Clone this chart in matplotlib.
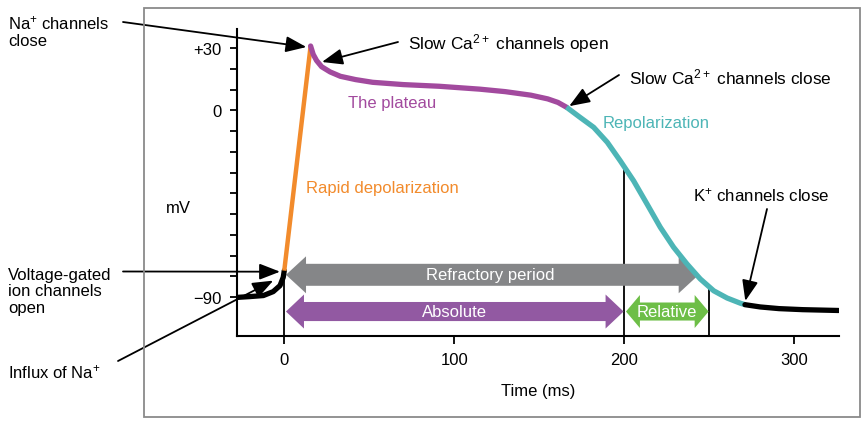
import numpy as np
import matplotlib.pyplot as plt
from matplotlib.patches import Polygon, Rectangle

plt.rcParams['font.family'] = ['Liberation Sans', 'DejaVu Sans']
plt.rcParams['mathtext.fontset'] = 'custom'
plt.rcParams['mathtext.rm'] = 'Liberation Sans'
plt.rcParams['mathtext.it'] = 'Liberation Sans:italic'
plt.rcParams['mathtext.bf'] = 'Liberation Sans:bold'

# action potential (time in ms, voltage in mV)
rest_t = [-28, -20.2, -12.3, -6.5, -2.5, -0.6, 0]
rest_v = [-90.2, -89.8, -89.3, -87.4, -84.5, -80.5, -77.3]
depol_t = [0, 15.5]
depol_v = [-77.3, 31]
plateau_t = [15.5, 17, 19, 22, 27, 33, 42, 52, 70, 91, 115, 130, 145, 155, 161, 166]
plateau_v = [31, 27, 24, 21, 18.5, 16.4, 14.8, 13.5, 12.4, 11.6, 10.2, 9, 7.3, 5.5, 3.8, 1.5]
repol_t = [166, 174, 182, 190, 197.6, 205.5, 213.4, 221.2, 229, 236.9, 244.7, 252.6, 260.5, 268.3, 271]
repol_v = [1.5, -3.4, -8.2, -15.4, -24.3, -34, -45.2, -56.4, -66, -74.1, -81.3, -87, -90.5, -93, -93.7]
after_t = [271, 280, 291, 305, 326]
after_v = [-93.7, -94.8, -95.6, -96.1, -96.5]

# refractory periods (ms)
refractory = (1, 243.8)
absolute = (1, 199.6)
relative = (201, 249.6)
markers_t = [0, 200, 250]

c_orange = '#F28B2C'
c_purple = '#A24A9E'
c_teal = '#4DB5B6'
c_gray = '#858688'
c_abs = '#9259A2'
c_green = '#6DBE47'

fig = plt.figure(figsize=(8.66, 4.31), dpi=100)
fig.patches.append(Rectangle((144, 13), 716, 409, transform=None, fill=False,
                             ec='#8a8a8a', lw=1.3))
ax = fig.add_axes([237 / 866, 94 / 431, 602 / 866, 307 / 431])
ax.set_xlim(-27.8, 326.3)
ax.set_ylim(-108.8, 39.2)

# vertical markers up to the curve
all_t = np.concatenate([rest_t, depol_t, plateau_t, repol_t, after_t])
all_v = np.concatenate([rest_v, depol_v, plateau_v, repol_v, after_v])
order = np.argsort(all_t, kind='stable')
for t in markers_t:
    ax.vlines(t, -108.8, np.interp(t, all_t[order], all_v[order]), color='black', lw=1.3, zorder=1)

lw = 3.8
style = dict(solid_joinstyle='round', zorder=3)
ax.plot(rest_t, rest_v, color='black', lw=lw, solid_capstyle='round', **style)
ax.plot(depol_t, depol_v, color=c_orange, lw=3.2, solid_capstyle='butt', **style)
ax.plot(plateau_t, plateau_v, color=c_purple, lw=lw, solid_capstyle='round', **style)
ax.plot(repol_t, repol_v, color=c_teal, lw=lw, solid_capstyle='butt', **style)
ax.plot(after_t, after_v, color='black', lw=lw, solid_capstyle='round', **style)


def block_arrow(x0, x1, y, body, head, hlen, color):
    xs = [x0, x0 + hlen, x0 + hlen, x1 - hlen, x1 - hlen, x1,
          x1 - hlen, x1 - hlen, x0 + hlen, x0 + hlen]
    ys = [y, y + head / 2, y + body / 2, y + body / 2, y + head / 2, y,
          y - head / 2, y - body / 2, y - body / 2, y - head / 2]
    ax.add_patch(Polygon(list(zip(xs, ys)), closed=True, fc=color, ec='none', zorder=2))


block_arrow(refractory[0], refractory[1], -79.3, 10.6, 17.8, 11.8, c_gray)
block_arrow(absolute[0], absolute[1], -97.0, 9.2, 16.4, 10.6, c_abs)
block_arrow(relative[0], relative[1], -97.0, 8.7, 15.9, 8.2, c_green)
ax.text(121, -79.3, 'Refractory period', color='white', fontsize=12, ha='center', va='center', zorder=4)
ax.text(100, -97.0, 'Absolute', color='white', fontsize=12, ha='center', va='center', zorder=4)
ax.text(225, -97.0, 'Relative', color='white', fontsize=12, ha='center', va='center', zorder=4)

# axes styling
for s in ['top', 'right']:
    ax.spines[s].set_visible(False)
ax.spines['left'].set_linewidth(1.5)
ax.spines['bottom'].set_linewidth(1.5)
ax.set_yticks(np.arange(-90, 31, 10))
ax.set_yticklabels(['\u221290' if v == -90 else '+30' if v == 30 else '0' if v == 0 else ''
                    for v in np.arange(-90, 31, 10)])
ax.set_xticks([0, 100, 200, 300])
ax.tick_params(axis='y', direction='out', length=5, width=1.3, pad=6, labelsize=12)
ax.tick_params(axis='x', direction='out', length=5.8, width=1.3, pad=6, labelsize=12)
ax.patch.set_visible(False)

fig.text(178, 431 - 209, 'mV', transform=None, fontsize=12, ha='center', va='center')
fig.text(538, 431 - 392, 'Time (ms)', transform=None, fontsize=12, ha='center', va='center')

# phase labels
ax.text(37.5, 4, 'The plateau', color=c_purple, fontsize=12, ha='left', va='center')
ax.text(12.5, -37, 'Rapid depolarization', color=c_orange, fontsize=12, ha='left', va='center')
ax.text(187.5, -6, 'Repolarization', color=c_teal, fontsize=12, ha='left', va='center')

# callouts
fig.text(8, 431 - 32, 'Na$^{+}$ channels\nclose', transform=None, fontsize=12,
         ha='left', va='center', linespacing=1.15)
fig.text(408, 431 - 44, 'Slow Ca$^{2+}$ channels open', transform=None, fontsize=12.4,
         ha='left', va='center')
fig.text(629, 431 - 77, 'Slow Ca$^{2+}$ channels close', transform=None, fontsize=12.4,
         ha='left', va='center')
fig.text(693, 431 - 195, 'K$^{+}$ channels close', transform=None, fontsize=12.2,
         ha='left', va='center')
fig.text(8, 431 - 292, 'Voltage-gated\nion channels\nopen', transform=None, fontsize=12,
         ha='left', va='center', linespacing=1.15)
fig.text(8, 431 - 372, 'Influx of Na$^{+}$', transform=None, fontsize=12,
         ha='left', va='center')

# (tail in figure pixels from top-left, tip in data)
arrows = [
    ((123, 23), (13, 30.5)),
    ((398, 43), (22.2, 23.3)),
    ((619, 76), (167.6, 2.0)),
    ((767, 210), (271.2, -91.9)),
    ((123, 272.5), (-2.5, -77.8)),
    ((118, 362), (-6.5, -82.1)),
]
for (px, py), tip in arrows:
    ax.annotate('', xy=tip, xycoords='data', xytext=(px, 431 - py),
                textcoords='figure pixels', annotation_clip=False,
                arrowprops=dict(arrowstyle='-|>,head_length=0.9,head_width=0.35',
                                color='black', lw=1.3, shrinkA=0, shrinkB=0,
                                mutation_scale=14))

fig.savefig('out.png', dpi=100)
